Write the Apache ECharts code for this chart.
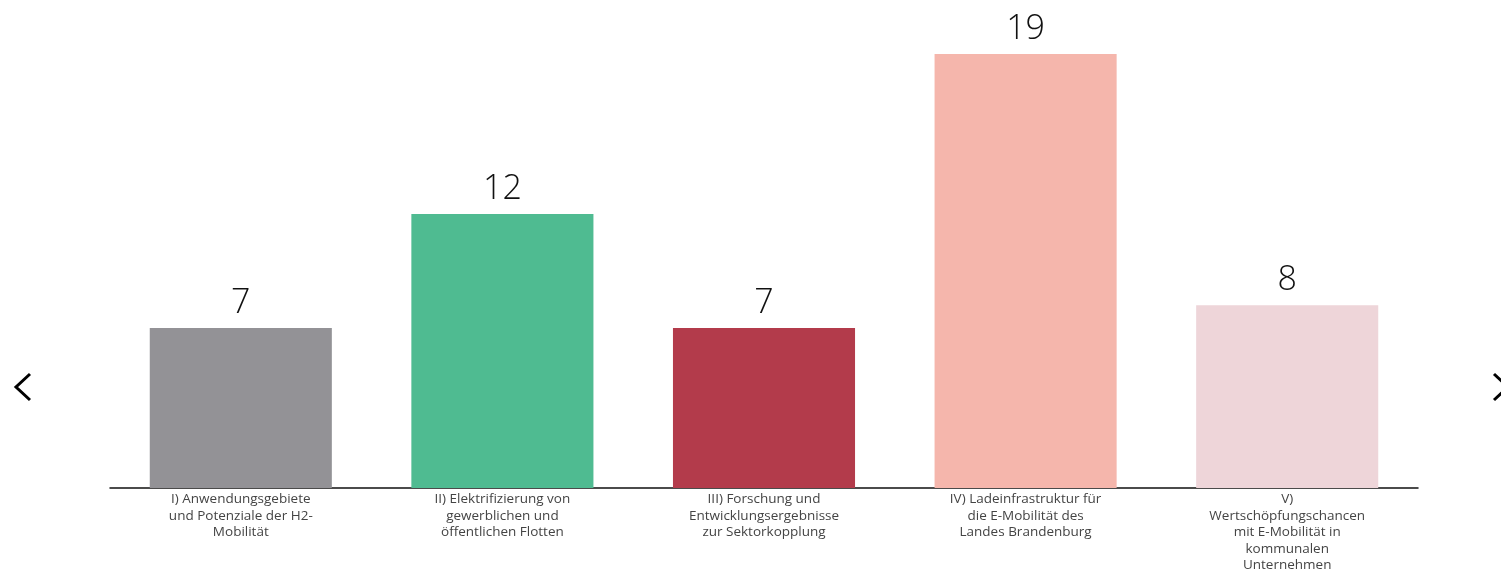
<!DOCTYPE html>
<html><head><meta charset="utf-8">
<script src="https://cdn.jsdelivr.net/npm/echarts@6/dist/echarts.min.js"></script>
<style>html,body{margin:0;padding:0;background:#fff}#c{width:1501px;height:569px}</style>
</head><body><div id="c"></div>
<script>
const categories = [
  "I) Anwendungsgebiete\nund Potenziale der H2-\nMobilität",
  "II) Elektrifizierung von\ngewerblichen und\nöffentlichen Flotten",
  "III) Forschung und\nEntwicklungsergebnisse\nzur Sektorkopplung",
  "IV) Ladeinfrastruktur für\ndie E-Mobilität des\nLandes Brandenburg",
  "V)\nWertschöpfungschancen\nmit E-Mobilität in\nkommunalen\nUnternehmen"
];
const values = [7, 12, 7, 19, 8];
const colors = ["#939296", "#4fbb91", "#b33b4b", "#f5b6ac", "#eed5d9"];

const chart = echarts.init(document.getElementById('c'));
chart.setOption({
  animation: false,
  grid: {left: 110, right: 83, top: 54, bottom: 81, outerBoundsMode: 'none', containLabel: false},
  xAxis: {
    type: 'category', data: categories,
    axisLine: {lineStyle: {color: '#111', width: 1.5}},
    axisTick: {show: false},
    axisLabel: {interval: 0, color: '#444', fontSize: 13.5, lineHeight: 16.5, fontFamily: 'Open Sans', margin: 3, verticalAlign: 'top'}
  },
  yAxis: {type: 'value', min: 0, max: 19, show: false, splitLine: {show: false}},
  series: [{
    type: 'bar', barWidth: '69.6%',
    data: values.map((v, i) => ({value: v, itemStyle: {color: colors[i]}})),
    label: {show: true, position: 'top', distance: 8, color: '#111', fontSize: 34, fontFamily: 'Open Sans', fontWeight: 300}
  }],
  graphic: [
    {type: 'polyline', shape: {points: [[30, 374], [16, 387], [30, 400]]}, style: {stroke: '#000', lineWidth: 3, fill: null}},
    {type: 'polyline', shape: {points: [[1494, 374], [1508, 387], [1494, 400]]}, style: {stroke: '#000', lineWidth: 3, fill: null}}
  ]
});
</script></body></html>
